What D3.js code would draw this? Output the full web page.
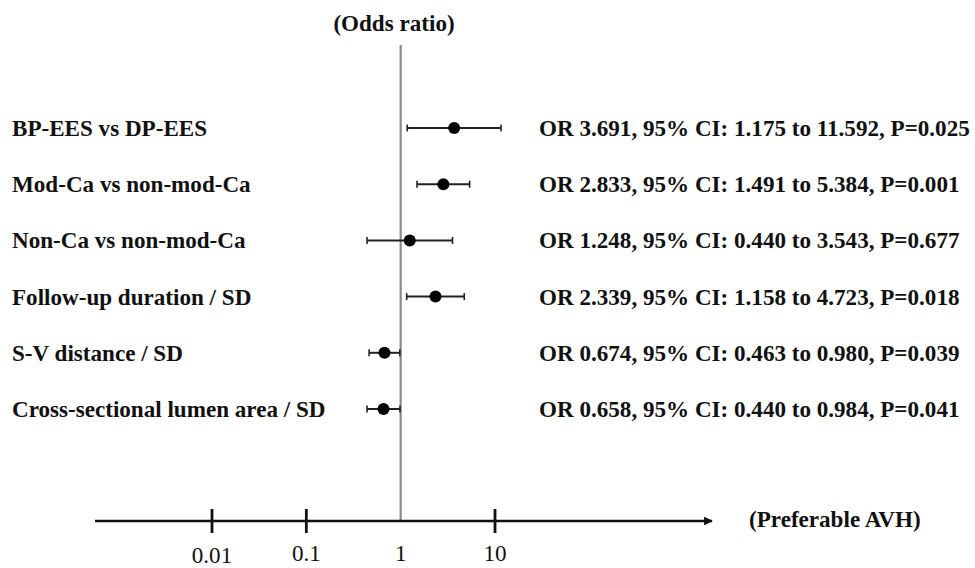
<!DOCTYPE html>
<html>
<head>
<meta charset="utf-8">
<script src="https://cdn.jsdelivr.net/npm/d3@7"></script>
<style>
  html, body { margin: 0; padding: 0; background: #fff; }
  svg { display: block; }
  text { font-family: "Liberation Serif", "Times New Roman", serif; fill: #111; }
</style>
</head>
<body>
<svg id="chart" width="975" height="568"></svg>
<script>
const labels = [
  "BP-EES vs DP-EES",
  "Mod-Ca vs non-mod-Ca",
  "Non-Ca vs non-mod-Ca",
  "Follow-up duration / SD",
  "S-V distance / SD",
  "Cross-sectional lumen area / SD"
];
const oddsRatio = [3.691, 2.833, 1.248, 2.339, 0.674, 0.658];
const ciLow     = [1.175, 1.491, 0.440, 1.158, 0.463, 0.440];
const ciHigh    = [11.592, 5.384, 3.543, 4.723, 0.980, 0.984];
const pValues   = ["0.025", "0.001", "0.677", "0.018", "0.039", "0.041"];
const tickValues = [0.01, 0.1, 1, 10];
const tickLabels = ["0.01", "0.1", "1", "10"];
const topTitle = "(Odds ratio)";
const axisTitle = "(Preferable AVH)";

const svg = d3.select("#chart");
const fontSize = 23.1;

const x = d3.scaleLog().domain([0.01, 10]).range([212, 495]);
const y = d3.scalePoint().domain(labels).range([128, 409]);
const axisY = 521;

// Reference vertical line at OR = 1
svg.append("line")
  .attr("x1", x(1)).attr("x2", x(1))
  .attr("y1", 45).attr("y2", axisY)
  .attr("stroke", "#8a8a8a").attr("stroke-width", 2.2);

// Top title
svg.append("text")
  .attr("x", 394).attr("y", 31)
  .attr("text-anchor", "middle")
  .attr("font-weight", "bold")
  .attr("font-size", fontSize)
  .text(topTitle);

// Horizontal axis with arrow
svg.append("defs").append("marker")
  .attr("id", "arrow")
  .attr("viewBox", "0 0 10 10")
  .attr("refX", 9).attr("refY", 5)
  .attr("markerWidth", 4.2).attr("markerHeight", 3.4)
  .attr("markerUnits", "strokeWidth")
  .attr("orient", "auto")
  .append("path").attr("d", "M0,0 L10,5 L0,10 Z").attr("fill", "#111");

svg.append("line")
  .attr("x1", 95).attr("x2", 712)
  .attr("y1", axisY).attr("y2", axisY)
  .attr("stroke", "#111").attr("stroke-width", 2.6)
  .attr("marker-end", "url(#arrow)");

const ticks = svg.append("g");
tickValues.forEach((v, i) => {
  if (v !== 1) {
    ticks.append("line")
      .attr("x1", x(v)).attr("x2", x(v))
      .attr("y1", axisY - 12).attr("y2", axisY + 12)
      .attr("stroke", "#111").attr("stroke-width", 2.8);
  }
  ticks.append("text")
    .attr("x", x(v)).attr("y", 561 + (i === 0 ? 2 : 0))
    .attr("text-anchor", "middle")
    .attr("font-size", fontSize)
    .text(tickLabels[i]);
});

svg.append("text")
  .attr("x", 749).attr("y", 527)
  .attr("font-weight", "bold")
  .attr("font-size", fontSize)
  .text(axisTitle);

// Rows
const rows = svg.append("g").selectAll("g")
  .data(labels.map((l, i) => ({l, or: oddsRatio[i], lo: ciLow[i], hi: ciHigh[i], p: pValues[i]})))
  .join("g");

rows.append("text")
  .attr("x", 12).attr("y", d => y(d.l) + 8)
  .attr("font-weight", "bold")
  .attr("font-size", fontSize)
  .text(d => d.l);

rows.append("line")
  .attr("x1", d => x(d.lo)).attr("x2", d => x(d.hi))
  .attr("y1", d => y(d.l)).attr("y2", d => y(d.l))
  .attr("stroke", "#222").attr("stroke-width", 2);

rows.append("line")
  .attr("x1", d => x(d.lo)).attr("x2", d => x(d.lo))
  .attr("y1", d => y(d.l) - 3.5).attr("y2", d => y(d.l) + 3.5)
  .attr("stroke", "#222").attr("stroke-width", 1.6);

rows.append("line")
  .attr("x1", d => x(d.hi)).attr("x2", d => x(d.hi))
  .attr("y1", d => y(d.l) - 3.5).attr("y2", d => y(d.l) + 3.5)
  .attr("stroke", "#222").attr("stroke-width", 1.6);

rows.append("circle")
  .attr("cx", d => x(d.or)).attr("cy", d => y(d.l))
  .attr("r", 6).attr("fill", "#000");

const fmt = d3.format(".3f");
rows.append("text")
  .attr("x", 539).attr("y", d => y(d.l) + 8)
  .attr("font-weight", "bold")
  .attr("font-size", fontSize)
  .text(d => `OR ${fmt(d.or)}, 95% CI: ${fmt(d.lo)} to ${fmt(d.hi)}, P=${d.p}`);
</script>
</body>
</html>
